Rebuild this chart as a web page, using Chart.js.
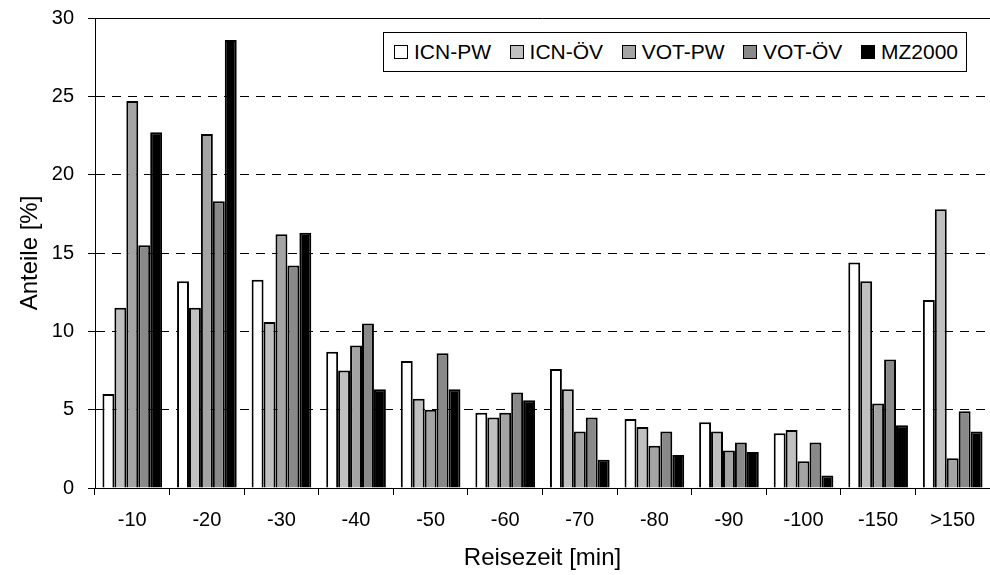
<!DOCTYPE html>
<html>
<head>
<meta charset="utf-8">
<script src="https://cdn.jsdelivr.net/npm/chart.js@4/dist/chart.umd.min.js"></script>
<style>
    body { margin: 0; background: #fff; overflow: hidden; }
    #wrap { position: relative; width: 990px; height: 575px; }
    #legend {
        position: absolute; left: 383px; top: 32px; width: 584px; height: 40px;
        border: 1.5px solid #000; background: #fff; box-sizing: border-box;
        display: flex; align-items: center; justify-content: space-between;
        font-family: "Liberation Sans", Arial, sans-serif; font-size: 21px; color: #000;
        padding: 0 8px 0 10px;
    }
    #legend span.item { display: flex; align-items: center; }
    #legend span.sw { width: 14px; height: 14px; border: 1.5px solid #000; margin-right: 6px; box-sizing: border-box; }
</style>
</head>
<body>
<div id="wrap">
    <canvas id="chart" width="990" height="575"></canvas>
    <div id="legend"></div>
</div>
<script>
// categories (travel time classes)
const categories = ["-10", "-20", "-30", "-40", "-50", "-60", "-70", "-80", "-90", "-100", "-150", ">150"];

// series values in %
const icnPW  = [6.0, 13.2, 13.3, 8.7, 8.1, 4.8, 7.6, 4.4, 4.2, 3.5, 14.4, 12.0];
const icnOEV = [11.5, 11.5, 10.6, 7.5, 5.7, 4.5, 6.3, 3.9, 3.6, 3.7, 13.2, 17.8];
const votPW  = [24.7, 22.6, 16.2, 9.1, 5.0, 4.8, 3.6, 2.7, 2.4, 1.7, 5.4, 1.9];
const votOEV = [15.5, 18.3, 14.2, 10.5, 8.6, 6.1, 4.5, 3.6, 2.9, 2.9, 8.2, 4.9];
const mz2000 = [22.7, 28.6, 16.3, 6.3, 6.3, 5.6, 1.8, 2.1, 2.3, 0.8, 4.0, 3.6];

const seriesNames = ["ICN-PW", "ICN-ÖV", "VOT-PW", "VOT-ÖV", "MZ2000"];
const seriesColors = ["#ffffff", "#c0c0c0", "#a4a4a4", "#898989", "#000000"];

const yTicks = [0, 5, 10, 15, 20, 25, 30];

const font = "'Liberation Sans', Arial, sans-serif";

const allSeries = [icnPW, icnOEV, votPW, votOEV, mz2000];
const datasets = allSeries.map((values, i) => ({
    label: seriesNames[i],
    data: values,
    backgroundColor: seriesColors[i],
    borderColor: "#000",
    borderWidth: 2,
    categoryPercentage: 0.8,
    barPercentage: 1.0
}));

// top frame line of the plot area
const topLine = {
    id: "topLine",
    afterDraw(chart) {
        const { ctx, chartArea } = chart;
        ctx.save();
        ctx.strokeStyle = "#000";
        ctx.lineWidth = 1;
        ctx.beginPath();
        ctx.moveTo(chartArea.left, chartArea.top + 0.5);
        ctx.lineTo(chartArea.right, chartArea.top + 0.5);
        ctx.stroke();
        ctx.restore();
    }
};

const ctx = document.getElementById("chart").getContext("2d");
new Chart(ctx, {
    type: "bar",
    data: { labels: categories, datasets: datasets },
    plugins: [topLine],
    options: {
        responsive: false,
        animation: false,
        layout: { padding: { top: 18, right: 0, left: 0, bottom: 0 } },
        plugins: { legend: { display: false }, tooltip: { enabled: false } },
        scales: {
            x: {
                grid: { display: true, drawOnChartArea: false, drawTicks: true, tickLength: 7, color: "#000" },
                border: { display: true, color: "#000", width: 1 },
                ticks: { color: "#000", font: { family: font, size: 20 }, padding: 13, maxRotation: 0 },
                title: { display: true, text: "Reisezeit [min]", color: "#000", font: { family: font, size: 24 }, padding: { top: 0, bottom: 2 } },
                afterFit(scale) { scale.height = 87; }
            },
            y: {
                min: 0, max: 30,
                afterBuildTicks(scale) { scale.ticks = yTicks.map(v => ({ value: v })); },
                grid: {
                    color: c => (c.tick.value === 0 || c.tick.value === 30) ? "rgba(0,0,0,0)" : "#000",
                    tickColor: "#000",
                    lineWidth: 1,
                    drawTicks: true,
                    tickLength: 7
                },
                border: { display: true, color: "#000", width: 1, dash: [9, 7] },
                ticks: { color: "#000", font: { family: font, size: 20 }, padding: 14 },
                title: { display: true, text: "Anteile [%]", color: "#000", font: { family: font, size: 24 }, padding: { top: 16, bottom: 0 } },
                afterFit(scale) {
                    scale.width = 95;
                    scale.paddingTop = 0;
                    scale.paddingBottom = 0;
                }
            }
        }
    }
});

// html legend inside the plot area
const legend = document.getElementById("legend");
seriesNames.forEach((name, i) => {
    const item = document.createElement("span");
    item.className = "item";
    const sw = document.createElement("span");
    sw.className = "sw";
    sw.style.background = seriesColors[i];
    item.appendChild(sw);
    item.appendChild(document.createTextNode(name));
    legend.appendChild(item);
});
</script>
</body>
</html>
